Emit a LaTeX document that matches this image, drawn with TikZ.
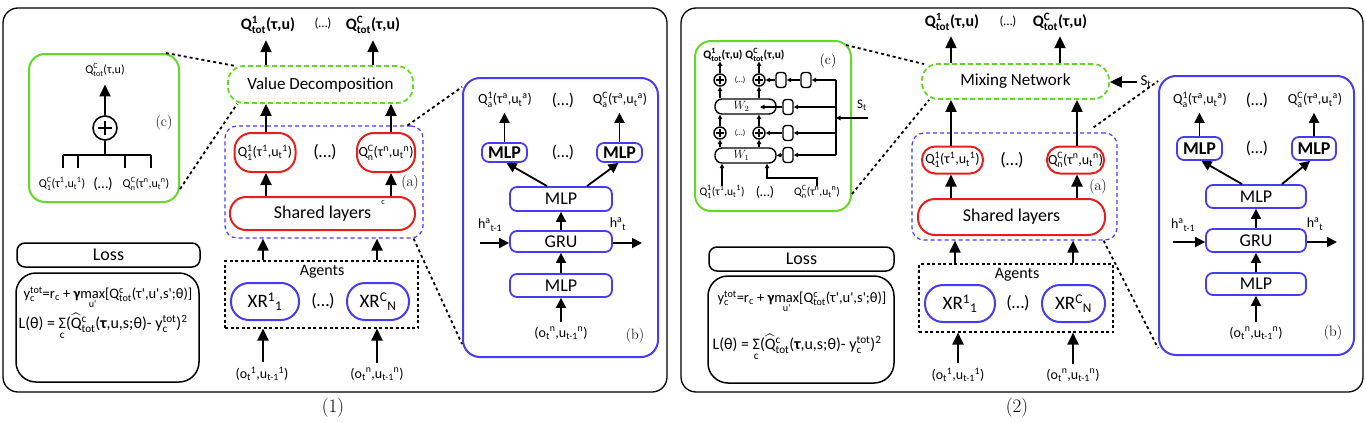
\documentclass[tikz,border=0pt]{standalone}
\usepackage{fontspec}
\usepackage{amsmath}
\newfontfamily\lab{Carlito}
\usetikzlibrary{arrows.meta,calc}
\definecolor{mygreen}{RGB}{100,215,40}
\definecolor{myblue}{RGB}{70,60,240}
\definecolor{myred}{RGB}{230,30,30}
\newcommand\QS[2]{\ensuremath{^{\text{#1}}_{\text{#2}}}}
\newcommand\SU[1]{\ensuremath{^{\text{#1}}}}
\newcommand\SD[1]{\ensuremath{_{\text{#1}}}}
\newcommand\fs[1]{\fontsize{#1}{#1}\selectfont}
\begin{document}
\begin{tikzpicture}[x=1pt,y=-1pt,
  every node/.style={font=\lab, inner sep=0pt},
  panel/.style={draw, line width=1.3pt, rounded corners=15pt},
  redb/.style={draw=myred, line width=2pt, rounded corners=14pt},
  blueb/.style={draw=myblue, line width=2pt, rounded corners=17pt},
  bsm/.style={draw=myblue, line width=1.8pt, rounded corners=7pt},
  gbox/.style={draw=mygreen, line width=2pt, rounded corners=16pt},
  gdash/.style={draw=mygreen, line width=1.8pt, dash pattern=on 5pt off 3pt, rounded corners=16pt},
  bdash/.style={draw=myblue, line width=1.2pt, dash pattern=on 4pt off 3pt, rounded corners=12pt},
  kdash/.style={draw, line width=1.1pt, dash pattern=on 3pt off 2.5pt},
  kbox/.style={draw, line width=1.5pt},
  dotl/.style={line width=1.8pt, dash pattern=on 3pt off 3pt},
  arr/.style={line width=2pt, -{Triangle[length=12pt,width=11pt]}},
  arrb/.style={line width=1.8pt, -{Triangle[length=10pt,width=10pt]}},
  arrs/.style={line width=1.3pt, -{Triangle[length=4.5pt,width=4.5pt]}},
  capt/.style={font=\rmfamily\fs{19}},
  sublab/.style={font=\rmfamily\fs{15}},
  big/.style={font=\lab\fs{17}},
  topq/.style={font=\lab\bfseries\fs{16}},
  redq/.style={font=\lab\fs{14}},
  blab/.style={font=\lab\fs{14}},
  inl/.style={font=\lab\fs{14}},
  clab/.style={font=\lab\fs{12}},
  sbox/.style={draw, line width=1.4pt, rounded corners=3pt, minimum width=10pt, minimum height=15pt},
  wbox/.style={draw, line width=1.4pt, rounded corners=7pt, minimum width=61pt, minimum height=15pt},
  pcirc/.style={circle, draw, line width=1.4pt, minimum size=12pt},
]
\useasboundingbox (0,0) rectangle (1366,423);

%================ LEFT PANEL =================
\node[panel, minimum width=664pt, minimum height=384pt] (Lpanel) at (335,200) {};
\node[capt] (Lcap) at (333,408) {(1)};

% (c) green box
\node[gbox, minimum width=150pt, minimum height=148pt] (Lgreen) at (104,128) {};
\node[clab] (Lct) at (105,70) {Q\QS{C}{tot}(τ,u)};
\node[circle, draw, line width=1.6pt, minimum size=24pt] (Lplus) at (105,128) {};
\draw[line width=2pt] ([xshift=-7pt]Lplus.center) -- ([xshift=7pt]Lplus.center);
\draw[line width=2pt] ([yshift=-7pt]Lplus.center) -- ([yshift=7pt]Lplus.center);
\draw[arr, shorten >=8pt] (Lplus.north) -- (Lplus.north |- Lct.south);
\coordinate (LbarL) at (63,155);
\coordinate (LbarR) at (151,155);
\draw[line width=1.6pt] (Lplus.south) -- (Lplus.south |- LbarL);
\draw[line width=1.6pt] (LbarL) -- (LbarR);
\draw[line width=1.6pt] (LbarL) -- ++(0,13);
\draw[line width=1.6pt] ($(LbarL)+(15,0)$) -- ++(0,13);
\draw[line width=1.6pt] ($(LbarR)+(-26,0)$) -- ++(0,13);
\draw[line width=1.6pt] (LbarR) -- ++(0,13);
\node[clab] (Lq1) at (62,184) {Q\QS{C}{1}(τ\SU{1},u\SD{t}\SU{1})};
\node[font=\lab\fs{15}] (Lqd) at (103,184) {(…)};
\node[clab] (Lqn) at (146,184) {Q\QS{C}{n}(τ\SU{n},u\SD{t}\SU{n})};
\node[sublab] (Lclab) at (164,123) {(c)};

% Value decomposition
\node[gdash, minimum width=185pt, minimum height=37pt] (LVD) at (320.5,84.5) {};
\node[big] (LVDt) at (LVD.center) {Value Decomposition};
\node[topq] (Lout1) at (268,25) {Q\QS{1}{tot}(τ,u)};
\node[font=\lab\fs{13}] (Loutd) at (323,24) {(…)};
\node[topq] (LoutC) at (373,25) {Q\QS{C}{tot}(τ,u)};

% (a)
\node[bdash, minimum width=198pt, minimum height=112pt] (LA) at (324,182) {};
\node[redb, minimum width=61pt, minimum height=39pt, rounded corners=17pt] (Lr1) at (265,152.5) {};
\node[redq] at (Lr1.center) {Q\QS{1}{1}(τ\SU{1},u\SD{t}\SU{1})};
\node[font=\lab\fs{18}] (Lrd) at (325,152) {(…)};
\node[redb, minimum width=58pt, minimum height=39pt, rounded corners=17pt] (LrC) at (386,152.5) {};
\node[redq] at (LrC.center) {Q\QS{C}{n}(τ\SU{n},u\SD{t}\SU{n})};
\node[sublab] (Lalab) at (410,183) {(a)};
\node[redb, minimum width=185pt, minimum height=33pt, rounded corners=16pt] (LSh) at (322.5,213.5) {};
\node[font=\lab\fs{18}] at (LSh.center) {Shared layers};
\node[font=\lab\fs{8}] (Lsc) at (383,203) {c};

% agents
\node[kdash, minimum width=193pt, minimum height=67pt] (LAg) at (321.5,294.5) {};
\node[font=\lab\fs{16}] (LAgt) at (322,272) {Agents};
\node[blueb, minimum width=68pt, minimum height=37pt, rounded corners=18pt] (LX1) at (265,301.5) {};
\node[font=\lab\fs{19}] at (LX1.center) {XR\SU{1}\SD{1}};
\node[font=\lab\fs{18}] (LXd) at (323,301) {(…)};
\node[blueb, minimum width=62pt, minimum height=37pt, rounded corners=18pt] (LXC) at (378,301.5) {};
\node[font=\lab\fs{19}] at (LXC.center) {XR\SU{C}\SD{N}};
\node[inl] (Lin1) at (262,374) {(o\SD{t}\SU{1},u\SD{t-1}\SU{1})};
\node[inl] (Lin2) at (377,374) {(o\SD{t}\SU{n},u\SD{t-1}\SU{n})};

% columns
\coordinate (Lc1) at (266,0);
\coordinate (Lc2) at (391,0);
\coordinate (Lc3) at (373,0);
\coordinate (Lc4) at (263,0);
\coordinate (Lc5) at (377,0);
\draw[arr, shorten >=6pt] (Lc1 |- LVD.north) -- (Lc1 |- Lout1.south);
\draw[arr, shorten >=6pt] (Lc3 |- LVD.north) -- (Lc3 |- LoutC.south);
\draw[arr] (Lc1 |- Lr1.north) -- (Lc1 |- LVD.south);
\draw[arr] (Lc2 |- LrC.north) -- (Lc2 |- LVD.south);
\draw[arr] (Lc1 |- LSh.north) -- (Lc1 |- Lr1.south);
\draw[arr] (Lc2 |- LSh.north) -- (Lc2 |- LrC.south);
\draw[arr] (Lc4 |- LAg.north) -- (Lc4 |- LA.south);
\draw[arr] (Lc5 |- LAg.north) -- (Lc5 |- LA.south);
\draw[arr, shorten <=5pt] (Lc4 |- Lin1.north) -- (Lc4 |- LAg.south);
\draw[arr, shorten <=5pt] (Lc5 |- Lin2.north) -- (Lc5 |- LAg.south);

% loss
\node[kbox, minimum width=183pt, minimum height=24pt, rounded corners=8pt] (LLoss) at (108.5,255) {};
\node[font=\lab\fs{18}] at (LLoss.center) {Loss};
\node[kbox, minimum width=183pt, minimum height=109pt, rounded corners=20pt] (LLbox) at (107.5,327.5) {};
\node[font=\lab\fs{14.5}] (LL1) at (108,298) {y\QS{tot}{c}=r\SD{c} + \textbf{γ}\ensuremath{\mathop{\text{max}}\limits_{\text{u'}}}[Q\QS{c}{tot}(τ',u',s';θ)]};
\node[font=\lab\fs{16}] (LL2) at (103,327) {L(θ) = \ensuremath{\mathop{\text{Σ}}\limits_{\text{c}}}(\ensuremath{\widehat{\text{Q}}}\QS{c}{tot}(\textbf{τ},u,s;θ)- y\QS{tot}{c})\SU{2}};

% (b) panel
\node[blueb, minimum width=195pt, minimum height=279pt] (Lb) at (560.5,217.5) {};
\node[blab] (Lbq1) at (505,100) {Q\QS{1}{a}(τ\SU{a},u\SD{t}\SU{a})};
\node[font=\lab\fs{17}] (Lbd) at (563,100) {(…)};
\node[blab] (Lbq2) at (620,100) {Q\QS{C}{a}(τ\SU{a},u\SD{t}\SU{a})};
\node[bsm, minimum width=45pt, minimum height=19pt] (Lbm1) at (504.5,152.5) {};
\node[font=\lab\bfseries\fs{18}] at (Lbm1.center) {MLP};
\node[font=\lab\fs{17}] (Lbmd) at (563,152) {(…)};
\node[bsm, minimum width=45pt, minimum height=19pt] (Lbm2) at (619.5,152.5) {};
\node[font=\lab\bfseries\fs{18}] at (Lbm2.center) {MLP};
\node[bsm, minimum width=102pt, minimum height=24pt] (LbM) at (561,199) {};
\node[font=\lab\fs{18}] at (LbM.center) {MLP};
\node[bsm, minimum width=102pt, minimum height=21pt] (LbG) at (561,241.5) {};
\node[font=\lab\fs{18}] at (LbG.center) {GRU};
\node[bsm, minimum width=102pt, minimum height=23pt] (LbB) at (561,285.5) {};
\node[font=\lab\fs{18}] at (LbB.center) {MLP};
\node[inl] (Lbin) at (561,333) {(o\SD{t}\SU{n},u\SD{t-1}\SU{n})};
\node[sublab] (Lblab) at (635,336) {(b)};
\node[inl] (Lhl) at (490,225) {h\SU{a}\SD{t-1}};
\node[inl] (Lhr) at (618,224) {h\SU{a}\SD{t}};
\coordinate (Lhin) at (480,243);
\coordinate (Lhout) at (642,243);
\draw[arrb] (Lhin) -- (Lhin -| LbG.west);
\draw[arrb] (Lhout -| LbG.east) -- (Lhout);
\draw[arrb] (LbB.north) -- (LbG.south);
\draw[arrb] (LbG.north) -- (LbM.south);
\draw[arrb, shorten <=5pt] (Lbin.north) -- (LbB.south);
\draw[arrb] ([xshift=-14pt]LbM.north) -- ([xshift=2pt]Lbm1.south);
\draw[arrb] ([xshift=26pt]LbM.north) -- ([xshift=-1pt]Lbm2.south);
\draw[arrb, shorten >=5pt] (Lbm1.north) -- (Lbm1.north |- Lbq1.south);
\draw[arrb, shorten >=5pt] (Lbm2.north) -- (Lbm2.north |- Lbq2.south);

% dotted connectors
\draw[dotl] ([xshift=-14pt]Lgreen.north east) -- ([xshift=9pt,yshift=-1pt]LVD.north west);
\draw[dotl] ([yshift=14pt]Lgreen.south east) -- ([xshift=10pt]LVD.south west);
\draw[dotl] ([xshift=-16pt]LA.north east) -- ([yshift=-10pt]Lb.north west);
\draw[dotl] ([xshift=-10pt]LA.south east) -- ([yshift=14pt]Lb.south west);

%================ RIGHT PANEL =================
\node[panel, minimum width=682pt, minimum height=384pt] (Rpanel) at (1022,200) {};
\node[capt] (Rcap) at (1017,408) {(2)};

% (c) mixing detail
\node[gbox, minimum width=156pt, minimum height=170pt] (Rgreen) at (773,126) {};
\node[font=\lab\bfseries\fs{11.5}] (Rt1) at (723,55) {Q\QS{1}{tot}(τ,u)};
\node[font=\lab\bfseries\fs{11.5}] (Rt2) at (765,55) {Q\QS{C}{tot}(τ,u)};
\node[font=\rmfamily\fs{14}] (Rclab) at (828,61) {(c)};
\node[pcirc] (Rp1) at (720,80) {};
\node[pcirc] (Rp2) at (759,80) {};
\node[pcirc] (Rp3) at (720,133) {};
\node[pcirc] (Rp4) at (759,133) {};
\foreach \p in {Rp1,Rp2,Rp3,Rp4}{
  \draw[line width=1.6pt] ([xshift=-4pt]\p.center) -- ([xshift=4pt]\p.center);
  \draw[line width=1.6pt] ([yshift=-4pt]\p.center) -- ([yshift=4pt]\p.center);
}
\node[font=\lab\fs{8}] (Rd1) at (740,80) {(…)};
\node[font=\lab\fs{8}] (Rd2) at (740,133) {(…)};
\node[sbox] (Rs1) at (781,80) {};
\node[sbox] (Rs2) at (806,80) {};
\node[sbox] (Rs3) at (788,107) {};
\node[sbox] (Rs4) at (788,133) {};
\node[sbox] (Rs5) at (788,155) {};
\node[wbox] (RW2) at (745.5,106.5) {};
\node[font=\fs{12}] at ([xshift=-4pt]RW2.center) {$W_2$};
\node[wbox] (RW1) at (745.5,155.5) {};
\node[font=\fs{12}] at ([xshift=-4pt]RW1.center) {$W_1$};
\coordinate (RvT) at (836,80);
\coordinate (RvB) at (836,155);
\draw[line width=1.4pt] (RvT) -- (RvB);
\draw[arrs] (RvT) -- (Rs2.east);
\draw[arrs] (RvB |- Rs3.east) -- (Rs3.east);
\draw[arrs] (RvB |- Rs4.east) -- (Rs4.east);
\draw[arrs] (RvB) -- (Rs5.east);
\draw[arrs] (Rs2.west) -- (Rs1.east);
\draw[arrs] (Rs1.west) -- (Rp2.east);
\coordinate (RW2in) at (760,107);
\draw[arrs] (Rs3.west) -- (RW2in);
\draw[arrs] (Rs4.west) -- (Rp4.east);
\draw[arrs] (Rs5.west) -- (RW1.east);
\draw[arrs] (RW1.north -| Rp3) -- (Rp3.south);
\draw[arrs] (RW1.north -| Rp4) -- (Rp4.south);
\draw[arrs] (Rp3.north) -- (Rp3.north |- RW2.south);
\draw[arrs] (Rp4.north) -- (Rp4.north |- RW2.south);
\draw[arrs] (RW2.north -| Rp1) -- (Rp1.south);
\draw[arrs] (RW2.north -| Rp2) -- (Rp2.south);
\draw[arrs] (Rp1.north) -- (Rp1.north |- Rt1.south);
\draw[arrs] (Rp2.north) -- (Rp2.north |- Rt2.south);
\node[font=\lab\fs{13}] (RSt) at (862,105) {S\SD{t}};
\coordinate (RSin) at (868,118);
\draw[arrs] (RSin) -- (RSin -| RvT);
\node[clab, font=\lab\fs{11.5}] (Rq1) at (722,192) {Q\QS{1}{1}(τ\SU{1},u\SD{t}\SU{1})};
\node[font=\lab\fs{14}] (Rqd) at (765,192) {(…)};
\node[clab, font=\lab\fs{11.5}] (Rqn) at (817,192) {Q\QS{C}{n}(τ\SU{n},u\SD{t}\SU{n})};
\coordinate (RQc) at (767,178);
\draw[arrs] (Rq1.north) -- (Rq1.north |- RW1.south);
\draw[arrs] (Rqn.north) |- (RQc) -- (RQc |- RW1.south);

% mixing network
\node[gdash, minimum width=187pt, minimum height=35pt] (Rmix) at (1015.5,81.5) {};
\node[big] at (Rmix.center) {Mixing Network};
\node[topq] (Ro1) at (952,22) {Q\QS{1}{tot}(τ,u)};
\node[font=\lab\fs{13}] (Rod) at (1008,22) {(…)};
\node[topq] (Ro2) at (1060,22) {Q\QS{C}{tot}(τ,u)};
\node[font=\lab\fs{15}] (Rst) at (1146,82) {S\SD{t}};
\coordinate (Rsin) at (1137,82);
\draw[arr] (Rsin) -- (Rsin -| Rmix.east);

% (a)
\node[bdash, minimum width=205pt, minimum height=107pt] (RA) at (1014.5,186.5) {};
\node[redb, minimum width=61pt, minimum height=27pt, rounded corners=13pt] (Rr1) at (952.5,160) {};
\node[redq] at (Rr1.center) {Q\QS{1}{1}(τ\SU{1},u\SD{t}\SU{1})};
\node[font=\lab\fs{18}] (Rrd) at (1012,160) {(…)};
\node[redb, minimum width=57pt, minimum height=27pt, rounded corners=13pt] (RrC) at (1075.5,160) {};
\node[redq] at (RrC.center) {Q\QS{C}{n}(τ\SU{n},u\SD{t}\SU{n})};
\node[sublab] (Ralab) at (1098,187) {(a)};
\node[redb, minimum width=187pt, minimum height=36pt, rounded corners=17pt] (RSh) at (1011.5,217) {};
\node[font=\lab\fs{18}] at (RSh.center) {Shared layers};

% agents
\node[kdash, minimum width=194pt, minimum height=68pt] (RAg) at (1016,298) {};
\node[font=\lab\fs{16}] (RAgt) at (1017,275) {Agents};
\node[blueb, minimum width=70pt, minimum height=37pt, rounded corners=18pt] (RX1) at (960,303.5) {};
\node[font=\lab\fs{19}] at (RX1.center) {XR\SU{1}\SD{1}};
\node[font=\lab\fs{18}] (RXd) at (1018,303) {(…)};
\node[blueb, minimum width=63pt, minimum height=37pt, rounded corners=18pt] (RXC) at (1073.5,303.5) {};
\node[font=\lab\fs{19}] at (RXC.center) {XR\SU{C}\SD{N}};
\node[inl] (Rin1) at (958,375) {(o\SD{t}\SU{1},u\SD{t-1}\SU{1})};
\node[inl] (Rin2) at (1073,375) {(o\SD{t}\SU{n},u\SD{t-1}\SU{n})};

\coordinate (Rc1) at (951,0);
\coordinate (Rc2) at (1077,0);
\coordinate (Rc3) at (1060,0);
\coordinate (Rc4) at (955,0);
\coordinate (Rc5) at (1073,0);
\draw[arr, shorten >=5pt] (Rc1 |- Rmix.north) -- (Rc1 |- Ro1.south);
\draw[arr, shorten >=5pt] (Rc3 |- Rmix.north) -- (Rc3 |- Ro2.south);
\draw[arr] (Rc1 |- Rr1.north) -- (Rc1 |- Rmix.south);
\draw[arr] (Rc2 |- RrC.north) -- (Rc2 |- Rmix.south);
\draw[arr] (Rc1 |- RSh.north) -- (Rc1 |- Rr1.south);
\draw[arr] (Rc2 |- RSh.north) -- (Rc2 |- RrC.south);
\draw[arr] (Rc4 |- RAg.north) -- (Rc4 |- RA.south);
\draw[arr] (Rc5 |- RAg.north) -- (Rc5 |- RA.south);
\draw[arr, shorten <=5pt] (Rin1.north) -- (Rin1.north |- RAg.south);
\draw[arr, shorten <=5pt] (Rc5 |- Rin2.north) -- (Rc5 |- RAg.south);

% loss
\node[kbox, minimum width=185pt, minimum height=24pt, rounded corners=8pt] (RLoss) at (801.5,259) {};
\node[font=\lab\fs{18}] at (RLoss.center) {Loss};
\node[kbox, minimum width=186pt, minimum height=107pt, rounded corners=20pt] (RLbox) at (801,329.5) {};
\node[font=\lab\fs{14.5}] (RL1) at (802,302) {y\QS{tot}{c}=r\SD{c} + \textbf{γ}\ensuremath{\mathop{\text{max}}\limits_{\text{u'}}}[Q\QS{c}{tot}(τ',u',s';θ)]};
\node[font=\lab\fs{16}] (RL2) at (797,348) {L(θ) = \ensuremath{\mathop{\text{Σ}}\limits_{\text{c}}}(\ensuremath{\widehat{\text{Q}}}\QS{c}{tot}(\textbf{τ},u,s;θ)- y\QS{tot}{c})\SU{2}};

% (b) panel
\node[blueb, minimum width=195pt, minimum height=279pt] (Rb) at (1256.5,215.5) {};
\node[blab] (Rbq1) at (1200,100) {Q\QS{1}{a}(τ\SU{a},u\SD{t}\SU{a})};
\node[font=\lab\fs{17}] (Rbd) at (1257,100) {(…)};
\node[blab] (Rbq2) at (1315,100) {Q\QS{C}{a}(τ\SU{a},u\SD{t}\SU{a})};
\node[bsm, minimum width=45pt, minimum height=23pt] (Rbm1) at (1199.5,148.5) {};
\node[font=\lab\bfseries\fs{18}] at (Rbm1.center) {MLP};
\node[font=\lab\fs{17}] (Rbmd) at (1257,148) {(…)};
\node[bsm, minimum width=44pt, minimum height=23pt] (Rbm2) at (1314,148.5) {};
\node[font=\lab\bfseries\fs{18}] at (Rbm2.center) {MLP};
\node[bsm, minimum width=100pt, minimum height=23pt] (RbM) at (1256,196.5) {};
\node[font=\lab\fs{18}] at (RbM.center) {MLP};
\node[bsm, minimum width=100pt, minimum height=23pt] (RbG) at (1256,240.5) {};
\node[font=\lab\fs{18}] at (RbG.center) {GRU};
\node[bsm, minimum width=100pt, minimum height=22pt] (RbB) at (1256,284) {};
\node[font=\lab\fs{18}] at (RbB.center) {MLP};
\node[inl] (Rbin) at (1256,333) {(o\SD{t}\SU{n},u\SD{t-1}\SU{n})};
\node[sublab] (Rblab) at (1333,333) {(b)};
\node[inl] (Rhl) at (1183,225) {h\SU{a}\SD{t-1}};
\node[inl] (Rhr) at (1315,224) {h\SU{a}\SD{t}};
\coordinate (Rhin) at (1173,242);
\coordinate (Rhout) at (1337,242);
\draw[arrb] (Rhin) -- (Rhin -| RbG.west);
\draw[arrb] (Rhout -| RbG.east) -- (Rhout);
\draw[arrb] (RbB.north) -- (RbG.south);
\draw[arrb] (RbG.north) -- (RbM.south);
\draw[arrb, shorten <=5pt] (Rbin.north) -- (RbB.south);
\draw[arrb] ([xshift=-14pt]RbM.north) -- ([xshift=2pt]Rbm1.south);
\draw[arrb] ([xshift=26pt]RbM.north) -- ([xshift=-4pt]Rbm2.south);
\draw[arrb, shorten >=5pt] (Rbm1.north) -- (Rbm1.north |- Rbq1.south);
\draw[arrb, shorten >=5pt] (Rbm2.north) -- (Rbm2.north |- Rbq2.south);

% dotted connectors
\draw[dotl] ([xshift=-6pt,yshift=-5pt]Rgreen.north east) -- ([xshift=3pt,yshift=-1pt]Rmix.north west);
\draw[dotl] ([yshift=18pt]Rgreen.south east) -- ([xshift=8pt]Rmix.south west);
\draw[dotl] ([xshift=-24pt,yshift=5pt]RA.north east) -- ([yshift=-6pt]Rb.north west);
\draw[dotl] ([xshift=-14pt]RA.south east) -- ([yshift=8pt]Rb.south west);
\end{tikzpicture}
\end{document}
